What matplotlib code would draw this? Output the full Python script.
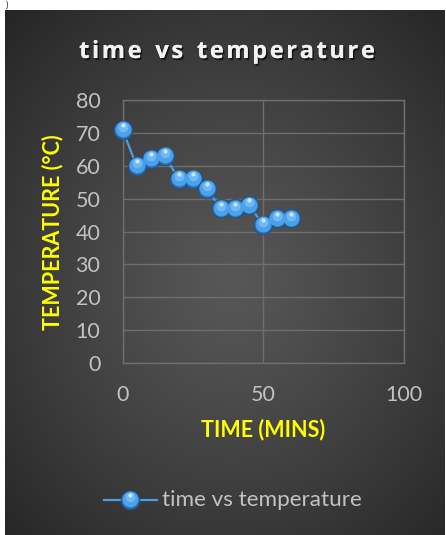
import numpy as np
import matplotlib.pyplot as plt
import matplotlib.patheffects as pe
from matplotlib.transforms import offset_copy

# data
time_min = [0, 5, 10, 15, 20, 25, 30, 35, 40, 45, 50, 55, 60]
temp_c = [71, 60, 62, 63, 56, 56, 53, 47, 47, 48, 42, 44, 44]
x_ticks = [0, 50, 100]
y_ticks = [0, 10, 20, 30, 40, 50, 60, 70, 80]

W, H = 446, 535
fig = plt.figure(figsize=(W/100, H/100), dpi=100)
fig.patch.set_facecolor('white')

# dark panel with radial gradient
bg = fig.add_axes([5/W, 0, (W-6)/W, (H-10)/H])
bg.set_axis_off()
ny, nx = 525, 440
yy, xx = np.mgrid[0:ny, 0:nx]
cx, cy = 225, 270
r = np.sqrt(((xx-cx)/330.0)**2 + ((yy-cy)/380.0)**2)
r = np.clip(r, 0, 1)
v = (0x57 - (0x57-0x24)*r**1.2)/255.0
bg.imshow(np.dstack([v, v, v]), aspect='auto', extent=[0, 1, 0, 1])
bg.set_xlim(0, 1)
bg.set_ylim(0, 1)

fig.text(6/W, 1-5/H, ')', fontsize=6.5, color='#333333', ha='left', va='center', family='Lato')

ax = fig.add_axes([122.5/W, (H-363)/H, 281.5/W, 263/H])
ax.patch.set_alpha(0)
grid_c = '#6e6e6e'
for s in ax.spines.values():
    s.set_color(grid_c)
    s.set_linewidth(1)
ax.set_xlim(0, 100)
ax.set_ylim(0, 80)
ax.set_xticks(x_ticks)
ax.set_yticks(y_ticks)
ax.grid(True, color=grid_c, linewidth=1)
ax.set_axisbelow(True)
ax.tick_params(length=0, labelsize=15.5, labelcolor='#c2c2c2', pad=16)
for lb in ax.get_xticklabels() + ax.get_yticklabels():
    lb.set_family('Lato')

# line + sphere-like markers
ax.plot(time_min, temp_c, color='#4a9ee6', linewidth=1.6, zorder=3, clip_on=False)
ax.plot(time_min, temp_c, 'o', ms=13.5, color='#2a68a8', mec='#24507e', mew=0.6, zorder=4, clip_on=False)
ax.plot(time_min, temp_c, 'o', ms=11.5, color='#4aa2ec', mec='none', zorder=5, clip_on=False,
        transform=offset_copy(ax.transData, fig=fig, x=0, y=0.5, units='points'))
ax.plot(time_min, temp_c, 'o', ms=7, color='#7dbff4', mec='none', zorder=6, clip_on=False, alpha=0.8,
        transform=offset_copy(ax.transData, fig=fig, x=0, y=2.0, units='points'))
ax.plot(time_min, temp_c, 'o', ms=3, color='#d6ecff', mec='none', zorder=7, clip_on=False, alpha=0.9,
        transform=offset_copy(ax.transData, fig=fig, x=0, y=3.4, units='points'))

# axis titles
fig.text(53/W, 1-232/H, 'TEMPERATURE (°C)', rotation=90, color='#ffff00', fontsize=15.5,
         fontweight='bold', family='Lato', ha='center', va='center')
fig.text(263/W, 1-430/H, 'TIME (MINS)', color='#ffff00', fontsize=15.5,
         fontweight='bold', family='Lato', ha='center', va='center')

# spaced title, drawn character by character
title = 'time vs temperature'
fig.canvas.draw()
rend = fig.canvas.get_renderer()
tsize = 17
spacing = 2.6
widths = []
for ch in title:
    t = fig.text(0, 0, ch if ch != ' ' else 'n', fontsize=tsize, fontweight='bold', family='Open Sans')
    w = t.get_window_extent(rend).width
    t.remove()
    widths.append(w * (0.55 if ch == ' ' else 1.0))
total = sum(widths) + spacing*(len(title)-1)
x0 = 227 - total/2
shadow = [pe.withSimplePatchShadow(offset=(1.2, -1.5), shadow_rgbFace='black', alpha=0.6), pe.Normal()]
for ch, w in zip(title, widths):
    if ch != ' ':
        fig.text(x0/W, 1-52/H, ch, fontsize=tsize, fontweight='bold', family='Open Sans',
                 color='#f2f2f2', ha='left', va='center', path_effects=shadow)
    x0 += w + spacing

# legend
ly = 1-500/H
pt = 100/72/H
fig.add_artist(plt.Line2D([104/W, 157/W], [ly, ly], color='#4a9ee6', linewidth=1.6))
fig.add_artist(plt.Line2D([130/W], [ly], marker='o', ms=13.5, color='#2a68a8', mec='#24507e', mew=0.6))
fig.add_artist(plt.Line2D([130/W], [ly+0.5*pt], marker='o', ms=11.5, color='#4aa2ec', mec='none'))
fig.add_artist(plt.Line2D([130/W], [ly+2.0*pt], marker='o', ms=7, color='#7dbff4', mec='none', alpha=0.8))
fig.add_artist(plt.Line2D([130/W], [ly+3.4*pt], marker='o', ms=3, color='#d6ecff', mec='none', alpha=0.9))
fig.text(162/W, ly, 'time vs temperature', color='#c2c2c2', fontsize=16.2, family='Lato',
         ha='left', va='center')

fig.savefig('out.png', dpi=100)
